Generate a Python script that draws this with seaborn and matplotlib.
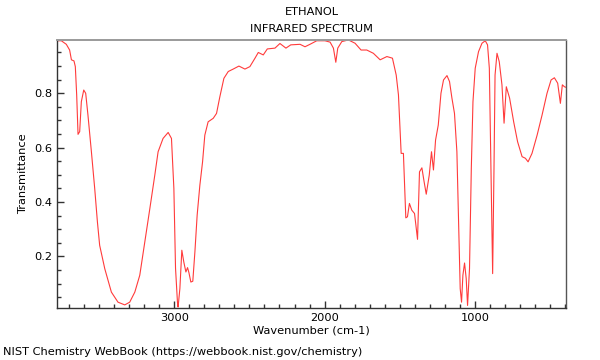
#import libraries
import seaborn as sns
import pandas
import matplotlib.pyplot as plt
from matplotlib.ticker import MultipleLocator

# ethanol IR spectrum
wavenumber = [3785, 3752, 3719, 3697, 3685, 3668, 3659, 3650, 3641, 3630,
              3619, 3603, 3590, 3575, 3552, 3530, 3512, 3497, 3463, 3419,
              3375, 3330, 3297, 3263, 3230, 3197, 3163, 3130, 3108, 3075,
              3041, 3019, 3003, 2992, 2979, 2975, 2963, 2950, 2937, 2923,
              2912, 2903, 2890, 2877, 2863, 2848, 2830, 2812, 2797, 2775,
              2741, 2719, 2697, 2670, 2641, 2608, 2570, 2530, 2497, 2463,
              2441, 2408, 2381, 2330, 2297, 2257, 2225, 2163, 2130, 2097,
              2052, 1997, 1963, 1941, 1925, 1912, 1885, 1841, 1797, 1757,
              1719, 1675, 1630, 1585, 1548, 1523, 1508, 1490, 1475, 1459,
              1448, 1435, 1419, 1401, 1381, 1368, 1352, 1337, 1323, 1303,
              1288, 1275, 1261, 1243, 1225, 1208, 1185, 1168, 1152, 1135,
              1119, 1108, 1097, 1088, 1079, 1068, 1057, 1048, 1035, 1023,
              1012, 997, 975, 952, 930, 915, 903, 892, 881, 872,
              865, 852, 837, 819, 805, 790, 768, 741, 715, 685,
              663, 645, 619, 585, 552, 519, 492, 470, 448, 430,
              417, 403, 394]
transmittance = [0.993, 0.993, 0.980, 0.959, 0.923, 0.919, 0.898, 0.794, 0.649, 0.659,
                 0.769, 0.812, 0.800, 0.720, 0.585, 0.450, 0.327, 0.241, 0.155, 0.069,
                 0.032, 0.022, 0.032, 0.069, 0.131, 0.253, 0.376, 0.499, 0.585, 0.634,
                 0.656, 0.634, 0.450, 0.157, 0.030, 0.014, 0.082, 0.223, 0.180, 0.143,
                 0.159, 0.141, 0.106, 0.109, 0.217, 0.352, 0.462, 0.548, 0.646, 0.695,
                 0.708, 0.726, 0.787, 0.855, 0.880, 0.889, 0.900, 0.889, 0.898, 0.929,
                 0.950, 0.941, 0.963, 0.966, 0.983, 0.966, 0.978, 0.980, 0.971, 0.980,
                 0.993, 0.993, 0.988, 0.966, 0.914, 0.966, 0.990, 0.996, 0.984, 0.959,
                 0.959, 0.947, 0.923, 0.935, 0.929, 0.867, 0.794, 0.579, 0.579, 0.342,
                 0.346, 0.395, 0.370, 0.358, 0.263, 0.511, 0.526, 0.474, 0.429, 0.499,
                 0.585, 0.518, 0.628, 0.683, 0.800, 0.849, 0.865, 0.843, 0.782, 0.726,
                 0.585, 0.340, 0.082, 0.032, 0.131, 0.176, 0.119, 0.020, 0.155, 0.524,
                 0.769, 0.892, 0.953, 0.984, 0.993, 0.978, 0.892, 0.524, 0.137, 0.524,
                 0.867, 0.947, 0.916, 0.831, 0.690, 0.824, 0.782, 0.695, 0.622, 0.567,
                 0.561, 0.548, 0.579, 0.646, 0.720, 0.800, 0.849, 0.857, 0.837, 0.763,
                 0.831, 0.824, 0.822]

df = pandas.DataFrame({"wn": wavenumber, "t": transmittance})

sns.set_style("ticks")
plt.rcParams['font.family'] = ['DejaVu Sans']
plt.rcParams['text.color'] = 'black'
plt.rcParams['axes.labelcolor'] = 'black'
fig, ax = plt.subplots(figsize=(6, 3.6), dpi=100)
fig.subplots_adjust(left=0.095, right=0.943, top=0.889, bottom=0.144)

sns.lineplot(x="wn", y="t", data=df, estimator=None, color='#ff3b3b',
             linewidth=0.8, ax=ax)

#axes settings
fs = 8.2
ax.set_xlim(3781, 394)
ax.set_ylim(0.01, 0.996)
ax.xaxis.set_major_locator(MultipleLocator(1000))
ax.xaxis.set_minor_locator(MultipleLocator(100))
ax.yaxis.set_minor_locator(MultipleLocator(0.05))
ax.set_yticks([0.2, 0.4, 0.6, 0.8])
ax.tick_params(which='both', direction='in', colors='#333333', labelcolor='black',
               labelsize=fs, top=False, right=False)
ax.tick_params(which='major', length=5, width=1)
ax.tick_params(which='minor', length=3, width=1)
for side in ['left', 'bottom']:
    ax.spines[side].set_color('#333333')
    ax.spines[side].set_linewidth(1)
ax.spines['top'].set_color('#9a9a9a')
ax.spines['top'].set_linewidth(1.4)
ax.spines['right'].set_color('#555555')
ax.spines['right'].set_linewidth(1)

ax.set_xlabel('Wavenumber (cm-1)', fontsize=fs, labelpad=2)
ax.set_ylabel('Transmittance', fontsize=fs, labelpad=4)

fig.text(0.519, 0.967, 'ETHANOL', ha='center', va='center', fontsize=fs)
fig.text(0.519, 0.919, 'INFRARED SPECTRUM', ha='center', va='center', fontsize=fs)
fig.text(0.005, 0.022, 'NIST Chemistry WebBook (https://webbook.nist.gov/chemistry)',
         ha='left', va='center', fontsize=fs)

plt.savefig('out.png', dpi=100)
